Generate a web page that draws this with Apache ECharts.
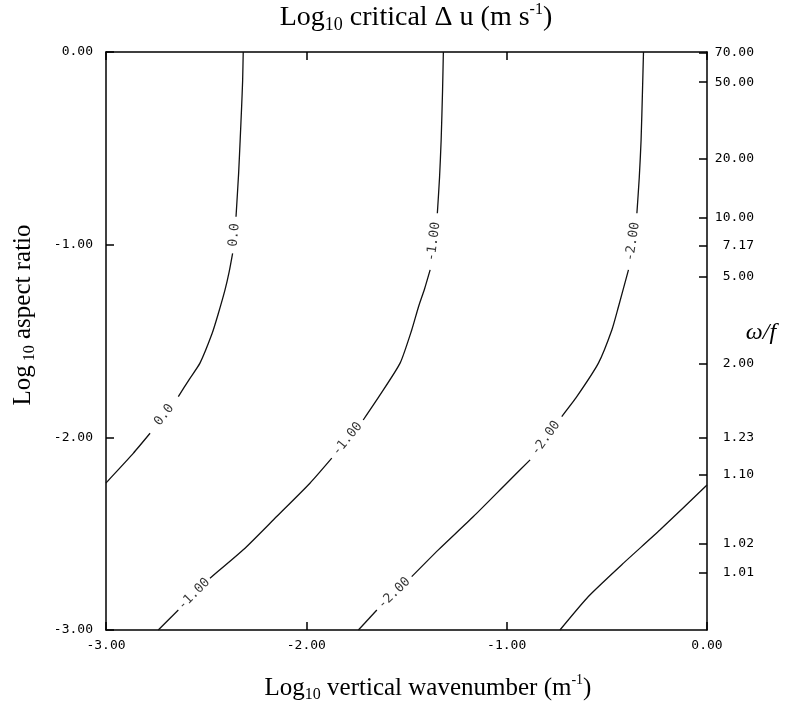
<!DOCTYPE html>
<html>
<head>
<meta charset="utf-8">
<script src="https://cdn.jsdelivr.net/npm/echarts@6/dist/echarts.min.js"></script>
<style>
  html, body { margin: 0; padding: 0; background: #fff; }
  #chart { width: 785px; height: 704px; }
</style>
</head>
<body>
<div id="chart"></div>
<script>
// contour levels of log10 critical Δu; each contour is split where its label sits
const levelLabels = ['0.0', '-1.00', '-2.00', '']

// [log10 vertical wavenumber, log10 aspect ratio]
const contour0 = [
  [[-2.315, 0], [-2.318, -0.15], [-2.323, -0.284], [-2.33, -0.45], [-2.338, -0.63], [-2.351, -0.855]],
  [[-2.368, -1.045], [-2.385, -1.14], [-2.406, -1.235], [-2.44, -1.36], [-2.47, -1.46], [-2.531, -1.615], [-2.585, -1.7], [-2.639, -1.789]],
  [[-2.78, -1.979], [-2.864, -2.083], [-2.994, -2.23], [-3, -2.237]]
]
const contour1 = [
  [[-1.316, 0], [-1.32, -0.2], [-1.327, -0.457], [-1.335, -0.65], [-1.346, -0.837]],
  [[-1.382, -1.131], [-1.41, -1.23], [-1.44, -1.322], [-1.474, -1.443], [-1.532, -1.615], [-1.632, -1.78], [-1.716, -1.91]],
  [[-1.873, -2.108], [-1.982, -2.238], [-2.148, -2.411], [-2.315, -2.584], [-2.481, -2.731]],
  [[-2.639, -2.896], [-2.739, -3]]
]
const contour2 = [
  [[-0.317, 0], [-0.322, -0.2], [-0.329, -0.457], [-0.338, -0.65], [-0.35, -0.837]],
  [[-0.392, -1.131], [-0.442, -1.322], [-0.475, -1.443], [-0.542, -1.615], [-0.65, -1.789], [-0.725, -1.892]],
  [[-0.883, -2.117], [-1.0, -2.238], [-1.166, -2.411], [-1.341, -2.584], [-1.474, -2.723]],
  [[-1.648, -2.896], [-1.74, -3]]
]
const contour3 = [
  [[0, -2.247], [-0.234, -2.48], [-0.417, -2.653], [-0.592, -2.826], [-0.734, -3]]
]

// right axis: ω/f tick labels and where they sit on the log10 aspect ratio scale
const omegaLabels = ['70.00', '50.00', '20.00', '10.00', '7.17', '5.00', '2.00', '1.23', '1.10', '1.02', '1.01']
const omegaPos = [-0.004, -0.157, -0.555, -0.858, -1.004, -1.165, -1.617, -2.0, -2.194, -2.553, -2.704]

const contours = [contour0, contour1, contour2, contour3]

const chart = echarts.init(document.getElementById('chart'))

const mono = '"DejaVu Sans Mono", monospace'
const serif = '"Liberation Serif", "Times New Roman", serif'
const axisColor = '#000'

function richText(size) {
  return {
    a: { fontFamily: serif, fontSize: size, color: '#000', lineHeight: size + 5 },
    s: { fontFamily: serif, fontSize: Math.round(size * 0.64), color: '#000', lineHeight: 16, verticalAlign: 'bottom' },
    p: { fontFamily: serif, fontSize: Math.round(size * 0.56), color: '#000', lineHeight: 14, verticalAlign: 'top' }
  }
}

const lineSeries = []
contours.forEach(segs => {
  segs.forEach(seg => {
    lineSeries.push({
      type: 'line',
      data: seg,
      symbol: 'none',
      smooth: 0.2,
      silent: true,
      lineStyle: { color: '#111', width: 1.3 }
    })
  })
})

function frameAxis(extra) {
  return Object.assign({
    type: 'value',
    min: -3,
    max: 0,
    interval: 1,
    axisLine: { show: true, onZero: false, lineStyle: { color: axisColor, width: 1.5 } },
    axisTick: { show: true, inside: true, length: 8, lineStyle: { color: axisColor, width: 1.5 } },
    axisLabel: { show: false },
    splitLine: { show: false }
  }, extra)
}

const tickLabel = { fontFamily: mono, fontSize: 13, color: '#000' }

const option = {
  animation: false,
  backgroundColor: '#fff',
  grid: { left: 106, right: 78, top: 52, bottom: 74, containLabel: false, outerBoundsMode: 'none' },
  xAxis: [
    frameAxis({
      position: 'bottom',
      axisLabel: Object.assign({ show: true, margin: 9, formatter: v => v.toFixed(2) }, tickLabel)
    }),
    frameAxis({ position: 'top' })
  ],
  yAxis: [
    frameAxis({
      position: 'left',
      axisLabel: Object.assign({ show: true, margin: 13, formatter: v => v.toFixed(2) }, tickLabel)
    }),
    frameAxis({
      position: 'right',
      interval: null,
      axisTick: { show: true, inside: true, length: 8, customValues: omegaPos, lineStyle: { color: axisColor, width: 1.5 } },
      axisLabel: Object.assign({
        show: true,
        margin: 47,
        align: 'right',
        customValues: omegaPos,
        formatter: v => {
          const i = omegaPos.findIndex(p => Math.abs(p - v) < 1e-6)
          return i >= 0 ? omegaLabels[i] : ''
        }
      }, tickLabel)
    })
  ],
  series: lineSeries,
  graphic: [
    {
      type: 'text', x: 416, y: 18,
      style: { text: '{a|Log}{s|10}{a| critical Δ u (m s}{p|-1}{a|)}', rich: richText(28), align: 'center', verticalAlign: 'middle' }
    },
    {
      type: 'text', x: 428, y: 688,
      style: { text: '{a|Log}{s|10}{a| vertical wavenumber (m}{p|-1}{a|)}', rich: richText(25), align: 'center', verticalAlign: 'middle' }
    },
    {
      type: 'text', x: 23, y: 315, rotation: Math.PI / 2,
      style: { text: '{a|Log}{s| 10}{a| aspect ratio}', rich: richText(25), align: 'center', verticalAlign: 'middle' }
    },
    {
      type: 'text', x: 761, y: 333,
      style: { text: 'ω/f', font: 'italic 24px ' + serif, fill: '#000', align: 'center', verticalAlign: 'middle' }
    }
  ]
}

chart.setOption(option)

// contour labels go into the gaps, turned along the line
const labelData = []
contours.forEach((segs, ci) => {
  const text = levelLabels[ci]
  if (!text) return
  for (let i = 0; i < segs.length - 1; i++) {
    const a = segs[i][segs[i].length - 1]
    const b = segs[i + 1][0]
    const pa = chart.convertToPixel({ gridIndex: 0 }, a)
    const pb = chart.convertToPixel({ gridIndex: 0 }, b)
    const lo = pa[1] > pb[1] ? pa : pb
    const hi = lo === pa ? pb : pa
    const angle = Math.atan2(lo[1] - hi[1], hi[0] - lo[0]) * 180 / Math.PI
    labelData.push({
      value: [(a[0] + b[0]) / 2, (a[1] + b[1]) / 2],
      name: text,
      label: { rotate: angle }
    })
  }
})

chart.setOption({
  series: lineSeries.concat([{
    type: 'scatter',
    data: labelData,
    symbolSize: 2,
    silent: true,
    itemStyle: { color: 'rgba(0,0,0,0)' },
    label: {
      show: true,
      position: 'inside',
      formatter: p => p.name,
      fontFamily: mono,
      fontSize: 13,
      color: '#000'
    }
  }])
})

window.addEventListener('resize', () => chart.resize())
</script>
</body>
</html>
